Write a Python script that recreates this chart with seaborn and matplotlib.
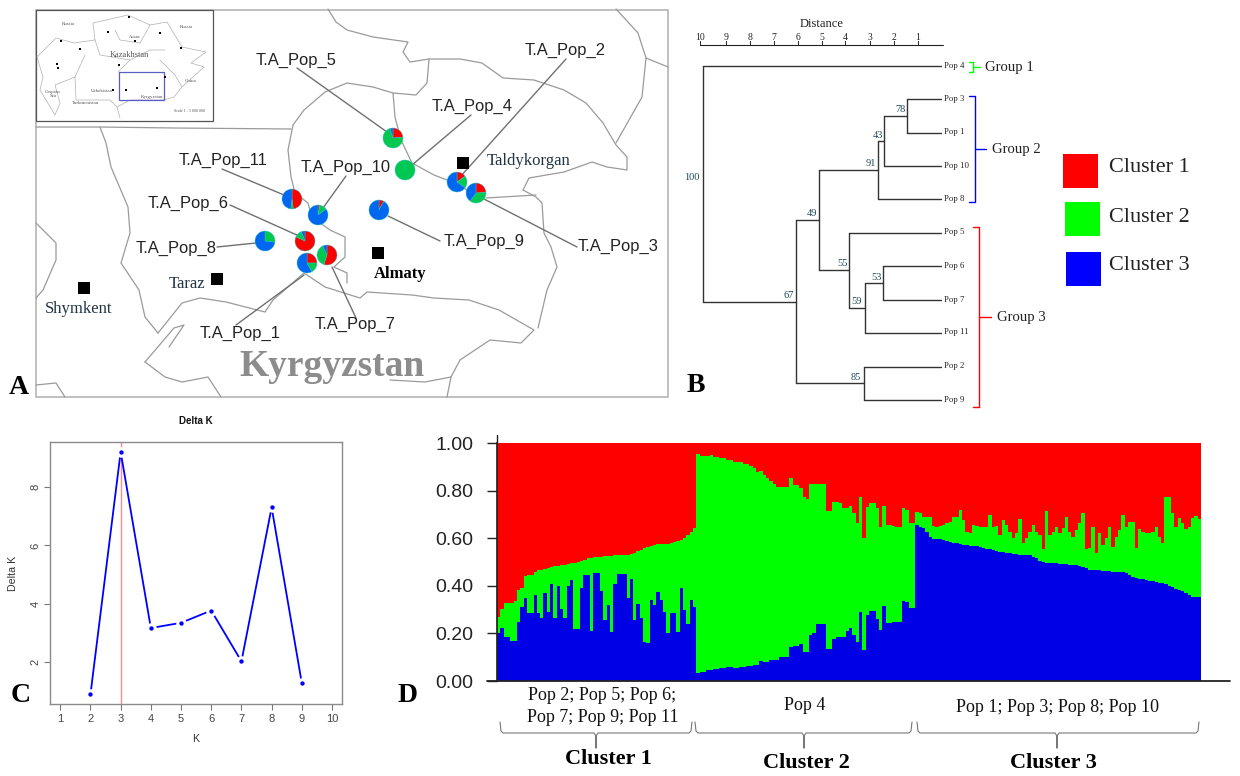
"""Composite figure: map with population pies, tree, Delta K curve, STRUCTURE bars."""

import matplotlib

matplotlib.use("Agg")
import matplotlib.pyplot as plt
from matplotlib.patches import Rectangle
import numpy as np
import pandas as pd
import seaborn as sns

W, H = 1240, 776
RED, GREEN, BLUE = "#ff0000", "#00ff00", "#0000ff"
PIE_COLORS = ["#ff0000", "#00c850", "#0068f0"]
SANS = "Liberation Sans"
SERIF = "Liberation Serif"

# Panel C
k_values = [2, 3, 4, 5, 6, 7, 8, 9]
delta_k = [0.90, 9.20, 3.17, 3.35, 3.77, 2.03, 7.30, 1.28]

# Panel D: upper edge of the blue and green layers per individual
blue_c1 = [.20, .225, .185, .185, .17, .17, .25, .31, .35, .285, .285, .36, .285, .265, .37, .29, .41, .265, .40, .305,
           .265, .40, .425, .22, .22, .39, .445, .445, .21, .455, .455, .38, .255, .32, .205, .41, .45, .45, .45, .35,
           .43, .255, .325, .265, .165, .16, .34, .32, .375, .34, .29, .20, .285, .285, .205, .39, .30, .24, .34, .31]
green_c1 = [.27, .305, .327, .327, .327, .335, .383, .39, .44, .446, .448, .46, .467, .468, .47, .475, .478, .482, .485,
            .488, .49, .493, .495, .498, .50, .505, .51, .519, .519, .52, .52, .522, .524, .526, .527, .528, .529, .529,
            .53, .53, .533, .537, .545, .551, .558, .565, .57, .572, .575, .576, .576, .576, .582, .586, .59, .593, .60,
            .615, .628, .645]
blue_c2 = [.032, .039, .039, .046, .046, .049, .049, .053, .053, .058, .058, .055, .055, .060, .060, .065, .065, .069,
           .069, .086, .081, .081, .088, .088, .088, .102, .102, .102, .144, .149, .149, .156, .123, .123, .194, .201,
           .238, .238, .238, .133, .133, .177, .184, .184, .184, .212, .222, .194, .165, .289, .130, .278, .295, .295,
           .261, .215, .317, .243, .243, .250, .250, .250, .338, .331, .306, .306]
green_c2 = [.955, .948, .948, .948, .951, .944, .944, .937, .937, .930, .930, .923, .923, .923, .913, .913, .905, .895,
            .878, .884, .867, .853, .843, .829, .815, .815, .815, .815, .856, .825, .825, .811, .776, .764, .827, .827,
            .827, .827, .827, .717, .717, .755, .755, .748, .727, .727, .738, .705, .663, .776, .603, .734, .748, .748,
            .727, .647, .738, .656, .656, .652, .647, .647, .727, .720, .663, .663]
blue_c3 = [.656, .649, .642, .628, .607, .597, .596, .596, .593, .589, .585, .582, .579, .575, .572, .571, .569, .568,
           .567, .564, .560, .557, .554, .551, .547, .544, .541, .540, .537, .536, .533, .532, .532, .530, .529, .523,
           .516, .505, .501, .498, .498, .496, .495, .494, .491, .491, .489, .488, .488, .485, .480, .474, .468, .468,
           .467, .466, .463, .461, .461, .460, .460, .460, .459, .453, .446, .439, .435, .431, .428, .425, .422, .419,
           .417, .414, .411, .408, .401, .394, .386, .381, .377, .372, .363, .355, .353, .353]
green_c3 = [.712, .705, .690, .690, .689, .652, .647, .650, .656, .663, .670, .690, .689, .720, .677, .628, .621, .656,
            .650, .647, .647, .647, .698, .647, .650, .614, .677, .656, .628, .600, .621, .680, .582, .600, .628, .656,
            .628, .614, .554, .717, .614, .628, .647, .621, .642, .689, .628, .604, .635, .663, .708, .554, .558, .647,
            .540, .621, .572, .600, .647, .562, .607, .635, .698, .647, .670, .670, .558, .638, .628, .624, .624, .628,
            .647, .607, .579, .773, .773, .705, .647, .684, .663, .638, .647, .684, .694, .680]
d_ticks = [0.0, 0.2, 0.4, 0.6, 0.8, 1.0]
d_tick_labels = ["0.00", "0.20", "0.40", "0.60", "0.80", "1.00"]

# Panel A: populations, shares of clusters 1, 2, 3 going clockwise from the top
pop_names = ["T.A_Pop_1", "T.A_Pop_2", "T.A_Pop_3", "T.A_Pop_4", "T.A_Pop_5", "T.A_Pop_6",
             "T.A_Pop_7", "T.A_Pop_8", "T.A_Pop_9", "T.A_Pop_10", "T.A_Pop_11"]
pop_share = [(.25, .17, .58), (.15, .20, .65), (.24, .36, .40), (0, 1, 0), (.24, .71, .05), (.82, .12, .06),
             (.55, .38, .07), (0, .27, .73), (.08, 0, .92), (.03, .12, .85), (.48, .04, .48)]
pop_centre = [(307, 263), (457, 182), (476, 193), (405, 170), (393, 138), (305, 241),
              (327, 255), (265, 241), (379, 210), (318, 215), (292, 199)]
pop_label = [(240, 333), (565, 50), (618, 246), (472, 106), (296, 60), (188, 203),
             (355, 324), (176, 248), (484, 241), (346, 167), (223, 160)]
pop_leader = [((236, 325), (304, 275)), ((566, 59), (460, 177)), ((577, 247), (484, 199)), ((471, 115), (412, 165)),
              ((297, 68), (387, 132)), ((230, 205), (299, 236)), ((356, 318), (332, 267)), ((217, 247), (256, 243)),
              ((440, 241), (388, 216)), ((346, 176), (323, 208)), ((222, 169), (284, 195))]

borders = [
    [(328, 9), (336, 22), (347, 30), (373, 37), (408, 42), (403, 52), (410, 62), (429, 59), (460, 59), (482, 63),
     (503, 78), (534, 80), (564, 90), (586, 103), (603, 123), (616, 145), (627, 157), (627, 170), (607, 167),
     (592, 162), (564, 172), (529, 178), (523, 190), (536, 197), (542, 203), (544, 233), (551, 247), (557, 267),
     (547, 290), (538, 328)],
    [(616, 9), (638, 33), (646, 58), (668, 67)],
    [(646, 58), (642, 97), (616, 143)],
    [(429, 59), (427, 83), (416, 95), (393, 93), (373, 87), (347, 83), (325, 92), (304, 110), (293, 125), (288, 150),
     (291, 177), (295, 193), (308, 203), (312, 217), (330, 230), (345, 237), (345, 257), (334, 267), (347, 273),
     (347, 283)],
    [(393, 93), (395, 117), (401, 140), (412, 163), (434, 175), (460, 185), (477, 198)],
    [(486, 198), (536, 195)],
    [(36, 127), (100, 127), (174, 128), (291, 129)],
    [(100, 127), (106, 143), (111, 167), (128, 207), (130, 233), (121, 263), (139, 290), (145, 317), (158, 333)],
    [(304, 273), (325, 287), (360, 298), (367, 292), (412, 295), (434, 298), (469, 300), (499, 310), (534, 330),
     (521, 343), (490, 340), (460, 360), (451, 377), (425, 382), (390, 380)],
    [(158, 333), (182, 303), (200, 298), (226, 302), (265, 312), (273, 300), (304, 273)],
    [(145, 362), (174, 328), (184, 325), (169, 347)],
    [(145, 362), (165, 377), (182, 382), (208, 377), (221, 397)],
    [(36, 223), (56, 243), (56, 260), (43, 290), (36, 298)],
    [(36, 385), (56, 383), (65, 397)],
    [(451, 377), (447, 397)],
]
inset_borders = [
    [(37, 57), (56, 38), (74, 43), (95, 40), (93, 23), (128, 15), (150, 25), (167, 22), (182, 47), (206, 52),
     (191, 63), (204, 67), (182, 87), (174, 97), (163, 100), (130, 100), (117, 107), (120, 118)],
    [(37, 57), (43, 77), (40, 90), (55, 115), (60, 103), (55, 85), (75, 77), (76, 100), (110, 100), (117, 107)],
    [(95, 40), (100, 55), (130, 60), (150, 50), (165, 50)],
    [(115, 30), (120, 40), (140, 43), (150, 25)],
    [(85, 55), (75, 77)],
    [(130, 60), (118, 72)],
    [(160, 60), (175, 75), (182, 87)],
]
inset_labels = [("Kazakhstan", 129, 55, 6), ("Russia", 68, 24, 3.5), ("Russia", 186, 27, 3.5), ("China", 191, 81, 3.5),
                ("Uzbekistan", 102, 91, 3.5), ("Turkmenistan", 85, 103, 3.5), ("Kyrgyzstan", 152, 97, 3.5),
                ("Caspian\nSea", 53, 94, 3.5), ("Astana", 135, 37, 3), ("Scale 1 : 3 000 000", 189, 111, 3)]
inset_dots = [(129, 17), (108, 32), (135, 41), (160, 33), (80, 49), (61, 41), (181, 48), (57, 64), (58, 68), (119, 65),
              (126, 90), (157, 88), (165, 77), (113, 90)]
cities = [("Taldykorgan", 463, 163, 529, 161, "normal"), ("Almaty", 378, 253, 400, 274, "bold"),
          ("Taraz", 217, 279, 187, 284, "normal"), ("Shymkent", 84, 288, 79, 309, "normal")]

# Panel B: tree nodes as (x, y top, y bottom)
leaf_names = ["Pop 4", "Pop 3", "Pop 1", "Pop 10", "Pop 8", "Pop 5", "Pop 6", "Pop 7", "Pop 11", "Pop 2", "Pop 9"]
leaf_y = [66, 99.3, 132.7, 166, 199.3, 232.7, 266, 300, 333, 367, 400]
leaf_from = [703, 907, 907, 884, 878, 849, 883, 883, 865, 864, 864]
tree_nodes = [(703, 66, 302), (796, 220, 383), (819, 170, 270), (878, 141, 199), (884, 116, 166), (907, 99.3, 132.7),
              (849, 232.7, 308), (865, 283, 333), (883, 266, 300), (864, 367, 400)]
tree_links = [(703, 796, 302), (796, 819, 220), (819, 878, 170), (878, 884, 141), (884, 907, 116),
              (819, 849, 270), (849, 865, 308), (865, 883, 283), (796, 864, 383)]
boot_labels = [("100", 692, 177), ("78", 900, 110), ("43", 877.5, 135), ("91", 871, 164), ("49", 812, 214),
               ("55", 842.5, 263), ("53", 877, 277), ("59", 857, 302), ("67", 788.5, 296), ("85", 856, 378)]
dist_ticks = [10, 9, 8, 7, 6, 5, 4, 3, 2, 1]
dist_x = [700, 726, 750, 774, 798, 822, 845, 870, 894, 917.5]

group_names = ["Group 1", "Group 2", "Group 3"]
group_colors = [GREEN, BLUE, RED]
group_spans = [(969, 973, 62, 72, 980, 985), (969, 975, 96, 202, 986, 992.5), (973, 979, 227, 407, 991, 997)]

legend_names = ["Cluster 1", "Cluster 2", "Cluster 3"]
legend_boxes = [(1063, 154), (1065, 202), (1066, 252)]
legend_text_y = [168, 217, 266]

pop_groups = [("Pop 2; Pop 5; Pop 6;", 602, 696), ("Pop 7; Pop 9; Pop 11", 603, 718), ("Pop 4", 805, 706),
              ("Pop 1; Pop 3; Pop 8; Pop 10", 1057, 707)]
braces = [(500, 596, 692), (695, 804, 912), (917, 1057, 1199)]
brace_names = [("Cluster 1", 608, 759), ("Cluster 2", 806, 763), ("Cluster 3", 1053, 763)]
letters = [("A", 19, 388), ("B", 696, 386), ("C", 21, 695), ("D", 408, 695)]


def px_axes(fig, left, top, right, bottom):
    return fig.add_axes([left / W, 1 - bottom / H, (right - left) / W, (bottom - top) / H])


sns.set_theme(style="white")
plt.rcParams["font.family"] = [SANS, "DejaVu Sans"]
fig = plt.figure(figsize=(W / 100, H / 100), dpi=100, facecolor="white")

# C: Delta K
ax_c = px_axes(fig, 50, 442, 342, 704)
ax_c.axvline(3, color="#ff8a8a", lw=1)
df_c = pd.DataFrame({"K": k_values, "delta": delta_k})
sns.lineplot(data=df_c, x="K", y="delta", color=BLUE, lw=1.3, marker="o", markersize=5.4,
             markeredgecolor="white", markeredgewidth=2.2, ax=ax_c, errorbar=None)
ax_c.set_xlim(0.66, 10.33)
ax_c.set_ylim(0.57, 9.54)
ax_c.set_xticks(range(1, 11))
ax_c.set_yticks([2, 4, 6, 8])
ax_c.set_xlabel("")
ax_c.set_ylabel("")
ax_c.tick_params(axis="x", bottom=True, length=4, width=0.8, color="#777777", labelsize=8, pad=3, labelcolor="#444444")
ax_c.tick_params(axis="y", left=True, length=4, width=0.8, color="#777777", labelsize=8, pad=3, labelcolor="#444444")
plt.setp(ax_c.get_yticklabels(), rotation=90, va="center")
for s in ax_c.spines.values():
    s.set_color("#8a8a8a")
    s.set_linewidth(1)

# D: admixture bars
ax_d = px_axes(fig, 497, 443.3, 1201, 681)
blue_top = blue_c1 + blue_c2 + blue_c3
green_top = green_c1 + green_c2 + green_c3
df_d = pd.DataFrame({"ind": np.arange(len(blue_top)), "blue": blue_top, "green": green_top, "red": 1.0})
for col, colr in [("red", RED), ("green", GREEN), ("blue", "#0000e6")]:
    sns.barplot(data=df_d, x="ind", y=col, color=colr, saturation=1, width=1, linewidth=0, antialiased=False,
                errorbar=None, ax=ax_d)
ax_d.set_xlim(-0.5, len(blue_top) - 0.5)
ax_d.set_ylim(0, 1)
ax_d.set_xticks([])
ax_d.set_yticks(d_ticks)
ax_d.set_yticklabels(d_tick_labels)
ax_d.set_xlabel("")
ax_d.set_ylabel("")
ax_d.tick_params(axis="y", left=True, length=7, width=1, color="#222222", labelsize=14, pad=10, labelcolor="#222222")
for name, s in ax_d.spines.items():
    s.set_visible(name == "left")
    s.set_color("#222222")

# everything placed in picture pixels goes on one overlay
ov = fig.add_axes([0, 0, 1, 1], zorder=5)
ov.patch.set_visible(False)

for name, xy, share in zip(pop_names, pop_centre, pop_share):
    ov.pie(share, colors=PIE_COLORS, center=xy, radius=10, startangle=-90, counterclock=True,
           wedgeprops={"linewidth": 0.3, "edgecolor": "#30c0c0"})
ov.set_xlim(0, W)
ov.set_ylim(H, 0)
ov.set_aspect("auto")
ov.axis("off")
# pies were added first, keep them above the lines
for p in ov.patches:
    p.set_zorder(4)

# A: map
ov.add_patch(Rectangle((36, 10), 632, 387, fill=False, ec="#b5b5b5", lw=1.2))
for line in borders:
    xs, ys = zip(*line)
    ov.plot(xs, ys, color="#9a9a9a", lw=0.9)
ov.add_patch(Rectangle((36, 10), 177, 111, fc="white", ec="#555555", lw=0.9, zorder=2))
for line in inset_borders:
    xs, ys = zip(*line)
    ov.plot(xs, ys, color="#b0b0b0", lw=0.5, zorder=3)
ov.add_patch(Rectangle((119, 72), 45, 28, fill=False, ec="#5b5bc8", lw=0.9, zorder=3))
for txt, x, y, fs in inset_labels:
    ov.text(x, y, txt, fontsize=fs, family=SERIF, color="#555555", ha="center", va="center", zorder=3)
dots_x, dots_y = zip(*inset_dots)
ov.scatter(dots_x, dots_y, s=0.8, color="black", marker="s", linewidths=0, zorder=3)
for (start, end) in pop_leader:
    ov.plot([start[0], end[0]], [start[1], end[1]], color="#707070", lw=1, zorder=3)
for name, (x, y) in zip(pop_names, pop_label):
    ov.text(x, y, name, fontsize=11.9, family=SANS, color="#222222", ha="center", va="center", zorder=5)
for name, sx, sy, tx, ty, weight in cities:
    ov.scatter([sx], [sy], s=75, color="black", marker="s", linewidths=0, zorder=3)
    ov.text(tx, ty, name, fontsize=12, family=SERIF, color="#223344" if weight == "normal" else "black",
            fontweight=weight, ha="center", va="center", zorder=5)
ov.text(332, 366, "Kyrgyzstan", fontsize=27, family=SERIF, fontweight="bold", color="#8c8c8c",
        ha="center", va="center", zorder=5)

# B: tree
ov.text(822, 24, "Distance", fontsize=9, family=SERIF, color="#222222", ha="center", va="center")
ov.plot([700, 943], [45, 45], color="#222222", lw=0.8)
for t, x in zip(dist_ticks, dist_x):
    ov.plot([x, x], [41, 45], color="#222222", lw=0.7)
    ov.text(x, 37, str(t), fontsize=7, family=SERIF, color="#222222", ha="center", va="center")
for x, y0, y1 in tree_nodes:
    ov.plot([x, x], [y0, y1], color="#333333", lw=1)
for x0, x1, y in tree_links:
    ov.plot([x0, x1], [y, y], color="#333333", lw=1)
for name, y, x0 in zip(leaf_names, leaf_y, leaf_from):
    ov.plot([x0, 941], [y, y], color="#333333", lw=1)
    ov.text(943.5, y - 0.5, name, fontsize=6.3, family=SERIF, color="#222222", ha="left", va="center")
for txt, x, y in boot_labels:
    ov.text(x, y, txt, fontsize=7.5, family=SERIF, color="#1f4a55", ha="center", va="center")
for name, colr, (tip, spine, y0, y1, end, tx) in zip(group_names, group_colors, group_spans):
    ov.plot([tip, spine, spine, tip], [y0, y0, y1, y1], color=colr, lw=1)
    ym = (y0 + y1) / 2
    ov.plot([spine, end], [ym, ym], color=colr, lw=1)
    ov.text(tx, ym, name, fontsize=10.6, family=SERIF, color="#222222", ha="left", va="center")
for name, colr, (x, y), ty in zip(legend_names, [RED, GREEN, BLUE], legend_boxes, legend_text_y):
    ov.add_patch(Rectangle((x, y), 35, 34, fc=colr, ec="none"))
    ov.text(1108.6, ty, name, fontsize=16, family=SERIF, color="#222222", ha="left", va="center")

# C: labels outside the frame
ov.text(196, 421, "Delta K", fontsize=7, family=SANS, fontweight="bold", color="#111111", ha="center", va="center")
ov.text(196, 739, "K", fontsize=7.7, family=SANS, color="#333333", ha="center", va="center")
ov.text(13.5, 573, "Delta K", fontsize=7.7, family=SANS, color="#333333", rotation=90, ha="center", va="center")

# D: axis extensions, group text and braces
ov.plot([497, 497], [435, 443], color="#222222", lw=1)
ov.plot([487, 1230], [681, 681], color="#222222", lw=1.3)
for txt, x, y in pop_groups:
    ov.text(x, y, txt, fontsize=13, family=SERIF, color="#111111", ha="center", va="center")
for x0, c, x1 in braces:
    ov.plot([x0, x0 + 1, x0 + 3, c - 2, c, c, c, c + 2, x1 - 3, x1 - 1, x1],
            [722, 731, 733, 733, 736, 748, 736, 733, 733, 731, 722], color="#777777", lw=0.8)
for txt, x, y in brace_names:
    ov.text(x, y, txt, fontsize=16, family=SERIF, fontweight="bold", color="black", ha="center", va="center")
for txt, x, y in letters:
    ov.text(x, y, txt, fontsize=20, family=SERIF, fontweight="bold", color="black", ha="center", va="center")

fig.savefig("out.png", dpi=100, facecolor="white")
